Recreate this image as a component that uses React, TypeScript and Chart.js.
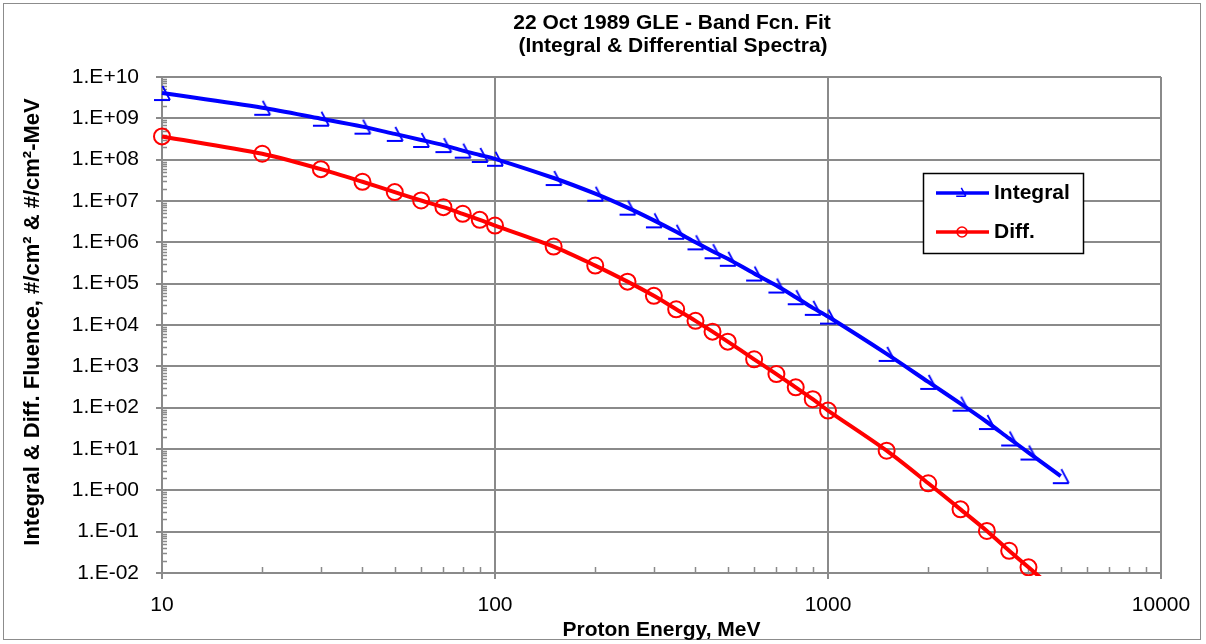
import React, { useEffect, useRef } from 'react';
import { Chart, registerables } from 'chart.js';

Chart.register(...registerables);

// ---- data ----
const energyIntegral = [10, 20, 30, 40, 50, 60, 70, 80, 90, 100, 150, 200, 250, 300, 350, 400, 450, 500, 600, 700, 800, 900, 1000, 1500, 2000, 2500, 3000, 3500, 4000, 5000];
const integralFluence = [4.1e9, 1.8e9, 9.8e8, 6.3e8, 4.2e8, 3.0e8, 2.25e8, 1.65e8, 1.3e8, 1.05e8, 3.6e7, 1.5e7, 6.9e6, 3.4e6, 1.8e6, 1.0e6, 6.1e5, 4.0e5, 1.76e5, 9.0e4, 4.7e4, 2.6e4, 1.6e4, 2.0e3, 4.2e2, 1.25e2, 45, 18, 8.2, 2.2];

const energyDiff = [10, 20, 30, 40, 50, 60, 70, 80, 90, 100, 150, 200, 250, 300, 350, 400, 450, 500, 600, 700, 800, 900, 1000, 1500, 2000, 2500, 3000, 3500, 4000, 5000];
const diffFluence = [3.65e8, 1.39e8, 5.9e7, 2.92e7, 1.64e7, 1.03e7, 7.1e6, 4.9e6, 3.5e6, 2.55e6, 7.9e5, 2.74e5, 1.12e5, 5.07e4, 2.4e4, 1.26e4, 6.9e3, 3.96e3, 1.48e3, 6.5e2, 3.1e2, 1.6e2, 85, 9.1, 1.48, 0.347, 0.104, 0.0345, 0.0137, 0.003];

const xTickValues = [10, 100, 1000, 10000];
const xTickLabels = ['10', '100', '1000', '10000'];
const yTickValues = [1e-2, 1e-1, 1e0, 1e1, 1e2, 1e3, 1e4, 1e5, 1e6, 1e7, 1e8, 1e9, 1e10];
const yTickLabels = ['1.E-02', '1.E-01', '1.E+00', '1.E+01', '1.E+02', '1.E+03', '1.E+04', '1.E+05', '1.E+06', '1.E+07', '1.E+08', '1.E+09', '1.E+10'];
const minorSteps = [2, 3, 4, 5, 6, 7, 8, 9];

const titleLines = ['22 Oct 1989 GLE - Band Fcn. Fit', '(Integral & Differential Spectra)'];
const xTitle = 'Proton Energy, MeV';
const yTitle = 'Integral & Diff. Fluence, #/cm\u00B2 & #/cm\u00B2-MeV';
const seriesNames = ['Integral', 'Diff.'];

const BLUE = '#0000FF';
const RED = '#FF0000';
const GRID = '#8a8a8a';
const FONT = "'Liberation Sans', Arial, sans-serif";

function drawArrowMarker(ctx: CanvasRenderingContext2D, cx: number, cy: number, s: number, color: string, lw: number) {
  ctx.save();
  ctx.strokeStyle = color;
  ctx.lineWidth = lw;
  ctx.beginPath();
  ctx.moveTo(cx - 8 * s, cy + 7 * s);
  ctx.lineTo(cx + 8 * s, cy + 7 * s);
  ctx.moveTo(cx + 0.5 * s, cy - 7 * s);
  ctx.lineTo(cx + 8 * s, cy + 7 * s);
  ctx.stroke();
  ctx.restore();
}

export default function App() {
  const ref = useRef<HTMLCanvasElement>(null);

  useEffect(() => {
    document.body.style.margin = '0';
    const canvas = ref.current!;

    const marker = document.createElement('canvas');
    marker.width = 20;
    marker.height = 18;
    const mc = marker.getContext('2d')!;
    drawArrowMarker(mc, 10, 9, 1, BLUE, 1.8);

    const decor = {
      id: 'decor',
      beforeDraw(chart: any) {
        const { ctx, width, height } = chart;
        ctx.save();
        ctx.fillStyle = '#ffffff';
        ctx.fillRect(0, 0, width, height);
        ctx.restore();
      },
      beforeDatasetsDraw(chart: any) {
        const { ctx, chartArea: a, scales } = chart;
        const x = scales.x;
        const y = scales.y;
        ctx.save();
        ctx.strokeStyle = GRID;
        ctx.lineWidth = 1.5;
        ctx.beginPath();
        for (let i = 0; i < xTickValues.length - 1; i++) {
          for (const m of minorSteps) {
            const px = Math.round(x.getPixelForValue(xTickValues[i] * m)) + 0.5;
            ctx.moveTo(px, a.bottom);
            ctx.lineTo(px, a.bottom - 6);
          }
        }
        for (let i = 0; i < yTickValues.length - 1; i++) {
          for (const m of minorSteps) {
            const py = Math.round(y.getPixelForValue(yTickValues[i] * m)) + 0.5;
            ctx.moveTo(a.left, py);
            ctx.lineTo(a.left + 5, py);
          }
        }
        ctx.stroke();
        ctx.restore();
      },
      afterDraw(chart: any) {
        const { ctx, chartArea: a } = chart;
        ctx.save();
        // outer border
        ctx.strokeStyle = '#8c8c8c';
        ctx.lineWidth = 1;
        ctx.strokeRect(3.5, 3.5, 1197, 636);

        ctx.fillStyle = '#000';
        ctx.textAlign = 'center';
        ctx.textBaseline = 'middle';
        ctx.font = `bold 21px ${FONT}`;
        ctx.fillText(titleLines[0], 672, 23);
        ctx.fillText(titleLines[1], 673, 46);

        ctx.fillText(xTitle, (a.left + a.right) / 2, 630);

        ctx.save();
        ctx.font = `bold 22px ${FONT}`;
        ctx.translate(33, 322);
        ctx.rotate(-Math.PI / 2);
        ctx.fillText(yTitle, 0, 0);
        ctx.restore();

        // legend
        const lx = 923, ly = 173, lw = 160, lh = 80;
        ctx.fillStyle = '#fff';
        ctx.fillRect(lx, ly, lw, lh);
        ctx.strokeStyle = '#000';
        ctx.lineWidth = 1.5;
        ctx.strokeRect(lx + 0.5, ly + 0.5, lw, lh);
        const rows = [193, 232];
        const ds = chart.data.datasets;
        rows.forEach((ry: number, i: number) => {
          ctx.strokeStyle = ds[i].borderColor;
          ctx.lineWidth = 3.5;
          ctx.beginPath();
          ctx.moveTo(936, ry);
          ctx.lineTo(989, ry);
          ctx.stroke();
          if (i === 0) {
            drawArrowMarker(ctx, 961, ry - 1, 0.6, ds[i].borderColor, 1.5);
          } else {
            ctx.lineWidth = 1.6;
            ctx.beginPath();
            ctx.arc(962, ry, 5, 0, Math.PI * 2);
            ctx.stroke();
          }
          ctx.fillStyle = '#000';
          ctx.textAlign = 'left';
          ctx.font = `bold 21px ${FONT}`;
          ctx.fillText(seriesNames[i], 994, ry);
        });
        ctx.restore();
      },
    };

    const chart = new Chart(canvas, {
      type: 'line',
      data: {
        datasets: [
          {
            label: seriesNames[0],
            data: energyIntegral.map((e, i) => ({ x: e, y: integralFluence[i] })),
            borderColor: BLUE,
            backgroundColor: BLUE,
            borderWidth: 4,
            tension: 0.3,
            pointStyle: marker as any,
            pointRadius: 9,
            clip: { left: 14, top: 14, right: 14, bottom: 3 } as any,
          },
          {
            label: seriesNames[1],
            data: energyDiff.map((e, i) => ({ x: e, y: diffFluence[i] })),
            borderColor: RED,
            backgroundColor: 'rgba(0,0,0,0)',
            borderWidth: 4,
            tension: 0.3,
            pointStyle: 'circle',
            pointRadius: 8,
            pointBorderWidth: 2,
            pointBorderColor: RED,
            pointBackgroundColor: 'rgba(0,0,0,0)',
            clip: { left: 14, top: 14, right: 14, bottom: 3 } as any,
          },
        ],
      },
      options: {
        responsive: false,
        animation: false,
        devicePixelRatio: 1,
        layout: { padding: { top: 77, right: 45, left: 0, bottom: 0 } },
        plugins: {
          legend: { display: false },
          title: { display: false },
          tooltip: { enabled: false },
        },
        scales: {
          x: {
            type: 'logarithmic',
            min: 10,
            max: 10000,
            afterBuildTicks: (s: any) => {
              s.ticks = xTickValues.map((v) => ({ value: v }));
            },
            afterFit: (s: any) => {
              s.height = 71;
            },
            ticks: {
              callback: (_v: any, i: number) => xTickLabels[i],
              font: { family: FONT, size: 21 },
              color: '#000',
              padding: 14,
              maxRotation: 0,
              autoSkip: false,
            },
            grid: { color: GRID, lineWidth: 2, tickLength: 6, drawTicks: true },
            border: { color: GRID, width: 2 },
          },
          y: {
            type: 'logarithmic',
            min: 1e-2,
            max: 1e10,
            afterBuildTicks: (s: any) => {
              s.ticks = yTickValues.map((v) => ({ value: v }));
            },
            afterFit: (s: any) => {
              s.width = 162;
            },
            ticks: {
              callback: (_v: any, i: number) => yTickLabels[i],
              font: { family: FONT, size: 21 },
              color: '#000',
              padding: 17,
              autoSkip: false,
            },
            grid: { color: GRID, lineWidth: 2, tickLength: 6, drawTicks: true },
            border: { color: GRID, width: 2 },
          },
        },
      } as any,
      plugins: [decor],
    });

    return () => chart.destroy();
  }, []);

  return <canvas ref={ref} width={1206} height={644} style={{ display: 'block' }} />;
}
